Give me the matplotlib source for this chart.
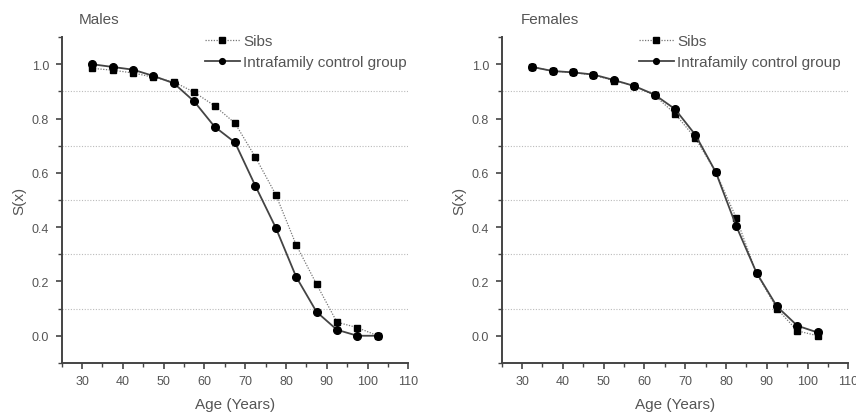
import numpy as np
import matplotlib.pyplot as plt
from matplotlib.ticker import MultipleLocator

plt.rcParams['font.family'] = ['Liberation Sans', 'DejaVu Sans']

# age class midpoints
age = [32.5, 37.5, 42.5, 47.5, 52.5, 57.5, 62.5, 67.5, 72.5, 77.5, 82.5, 87.5, 92.5, 97.5, 102.5]

# ------------------------- survival values -------------------------
male_sibs = [0.985, 0.978, 0.968, 0.952, 0.935, 0.897, 0.847, 0.783, 0.658, 0.52,
             0.335, 0.19, 0.05, 0.03, 0.0]
male_ctrl = [1.0, 0.99, 0.98, 0.957, 0.93, 0.863, 0.77, 0.712, 0.552, 0.398,
             0.217, 0.088, 0.022, 0.0, 0.0]
female_sibs = [0.99, 0.975, 0.97, 0.96, 0.94, 0.92, 0.885, 0.818, 0.728, 0.603,
               0.435, 0.23, 0.1, 0.018, 0.0]
female_ctrl = [0.99, 0.975, 0.97, 0.962, 0.942, 0.92, 0.888, 0.835, 0.74, 0.603,
               0.405, 0.232, 0.108, 0.037, 0.012]

panels = [('Males', male_sibs, male_ctrl, 0.049, 0.413),
          ('Females', female_sibs, female_ctrl, 0.055, 0.396)]
grid_y = [0.1, 0.3, 0.5, 0.7, 0.9]

fig = plt.figure(figsize=(8.56, 4.14), dpi=100)
ax_pos = [[0.072, 0.121, 0.405, 0.787], [0.586, 0.121, 0.405, 0.787]]
axis_col = '#444444'
text_col = '#555555'

for pos, (title, sibs, ctrl, tx, lx) in zip(ax_pos, panels):
    ax = fig.add_axes(pos)
    for g in grid_y:
        ax.axhline(g, color='#bbbbbb', lw=0.8, ls=(0, (1, 1.5)), zorder=0)
    ax.plot(age, sibs, ls=(0, (1, 1.2)), lw=0.9, color='#777777', marker='s',
            ms=5, mfc='black', mec='black', label='Sibs')
    ax.plot(age, ctrl, ls='-', lw=1.3, color='#444444', marker='o',
            ms=5.5, mfc='black', mec='black', label='Intrafamily control group')

    ax.set_xlim(25, 110)
    ax.set_ylim(-0.1, 1.1)
    ax.xaxis.set_minor_locator(MultipleLocator(5))
    ax.yaxis.set_minor_locator(MultipleLocator(0.1))
    ax.set_xticks(range(30, 111, 10))
    ax.set_yticks([0.0, 0.2, 0.4, 0.6, 0.8, 1.0])
    ax.set_yticklabels(['0.0', '0.2', '0.4', '0.6', '0.8', '1.0'])

    for s in ['top', 'right']:
        ax.spines[s].set_visible(False)
    for s in ['left', 'bottom']:
        ax.spines[s].set_color(axis_col)
        ax.spines[s].set_linewidth(1.4)
    ax.tick_params(which='major', direction='out', length=4, width=1.2,
                   color=axis_col, labelcolor=text_col, labelsize=9, pad=5)
    ax.tick_params(which='minor', direction='out', length=3, width=1.0, color=axis_col)

    ax.set_xlabel('Age (Years)', fontsize=11, color=text_col, labelpad=7)
    ax.set_ylabel('S(x)', fontsize=11, color=text_col, labelpad=4)
    ax.text(tx, 1.055, title, transform=ax.transAxes, fontsize=11,
            color=text_col, va='center')

    leg = ax.legend(loc='upper left', bbox_to_anchor=(lx, 1.008), frameon=False,
                    fontsize=11, handlelength=2.3, handletextpad=0.2,
                    labelspacing=0.42, borderpad=0, borderaxespad=0, markerscale=0.75)
    for t in leg.get_texts():
        t.set_color(text_col)

fig.savefig('out.png', dpi=100)
